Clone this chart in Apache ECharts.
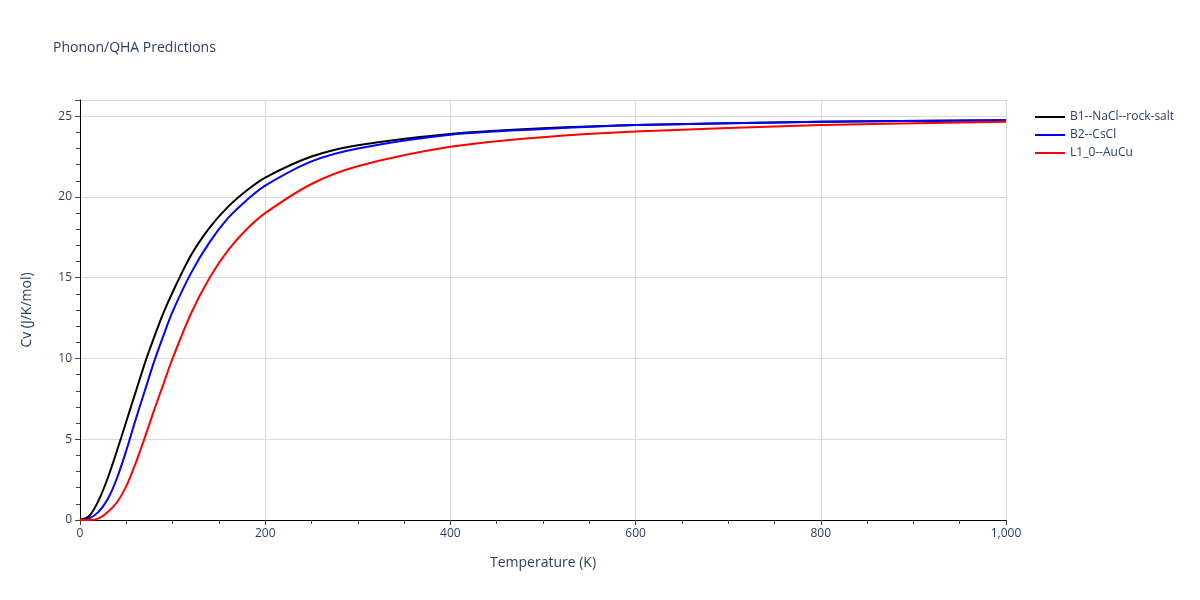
<!DOCTYPE html>
<html>
<head>
<meta charset="utf-8">
<script src="https://cdn.jsdelivr.net/npm/echarts@6/dist/echarts.min.js"></script>
<style>body{margin:0}#chart{width:1200px;height:600px}</style>
</head>
<body>
<div id="chart"></div>
<script>
// temperatures (K) shared by all series
var temps = [0, 10, 20, 30, 40, 50, 60, 70, 80, 90, 100, 120, 140, 160, 180, 200, 250, 300, 400, 500, 600, 800, 1000];
var cvB1 = [0, 0.25, 1.2, 2.6, 4.3, 6.1, 7.9, 9.7, 11.3, 12.8, 14.1, 16.4, 18.1, 19.4, 20.4, 21.2, 22.5, 23.2, 23.9, 24.25, 24.45, 24.65, 24.75];
var cvB2 = [0, 0.1, 0.5, 1.3, 2.6, 4.3, 6.2, 8.0, 9.8, 11.4, 12.9, 15.3, 17.2, 18.7, 19.8, 20.7, 22.2, 23.0, 23.85, 24.2, 24.45, 24.65, 24.75];
var cvL1 = [0, 0, 0.1, 0.5, 1.1, 2.1, 3.5, 5.1, 6.8, 8.4, 10.0, 12.8, 15.0, 16.7, 18.0, 19.0, 20.8, 21.9, 23.1, 23.7, 24.05, 24.45, 24.65];
var names = ['B1--NaCl--rock-salt', 'B2--CsCl', 'L1_0--AuCu'];
var colors = ['#000000', '#0000ff', '#ff0000'];

function pairs(ys) {
	return temps.map(function(t, i) { return [t, ys[i]]; });
}

var myChart = echarts.init(document.getElementById('chart'));
var series = [cvB1, cvB2, cvL1].map(function(ys, i) {
	return {
		name : names[i],
		type : 'line',
		smooth : 0.3,
		symbol : 'none',
		lineStyle : { color : colors[i], width : 2 },
		itemStyle : { color : colors[i] },
		data : pairs(ys)
	};
});
var axisText = { color : '#2a3f5f', fontFamily : 'Open Sans', fontSize : 12 };
myChart.setOption({
	backgroundColor : '#fff',
	textStyle : { fontFamily : 'Open Sans' },
	title : {
		text : 'Phonon/QHA Predictions', left : 48, top : 36,
		textStyle : { color : '#2a3f5f', fontSize : 14, fontWeight : 'normal', fontFamily : 'Open Sans' }
	},
	legend : {
		orient : 'vertical', left : 1030, top : 106, itemGap : 6,
		itemWidth : 30, itemHeight : 2, icon : 'rect',
		textStyle : { color : '#2a3f5f', fontSize : 12 },
		data : names
	},
	grid : { left : 80, top : 100, width : 926, height : 420 },
	xAxis : {
		type : 'value', min : 0, max : 1000, interval : 200,
		name : 'Temperature (K)', nameLocation : 'middle', nameGap : 36,
		nameTextStyle : { color : '#2a3f5f', fontSize : 14 },
		axisLine : { onZero : false, lineStyle : { color : '#000' } },
		axisTick : { show : true, length : 5, lineStyle : { color : '#444' } },
		minorTick : { show : true, splitNumber : 4, length : 4, lineStyle : { color : '#444' } },
		axisLabel : axisText,
		splitLine : { lineStyle : { color : '#d9d9d9' } }
	},
	yAxis : {
		type : 'value', min : 0, max : 26, interval : 5,
		name : 'Cv (J/K/mol)', nameLocation : 'middle', nameGap : 46,
		nameTextStyle : { color : '#2a3f5f', fontSize : 14 },
		axisLine : { show : true, lineStyle : { color : '#000' } },
		axisTick : { show : true, length : 5, lineStyle : { color : '#444' } },
		minorTick : { show : true, splitNumber : 5, length : 4, lineStyle : { color : '#444' } },
		axisLabel : { color : '#2a3f5f', fontSize : 12, showMaxLabel : false },
		splitLine : { lineStyle : { color : '#d9d9d9' } }
	},
	series : series
});
</script>
</body>
</html>
